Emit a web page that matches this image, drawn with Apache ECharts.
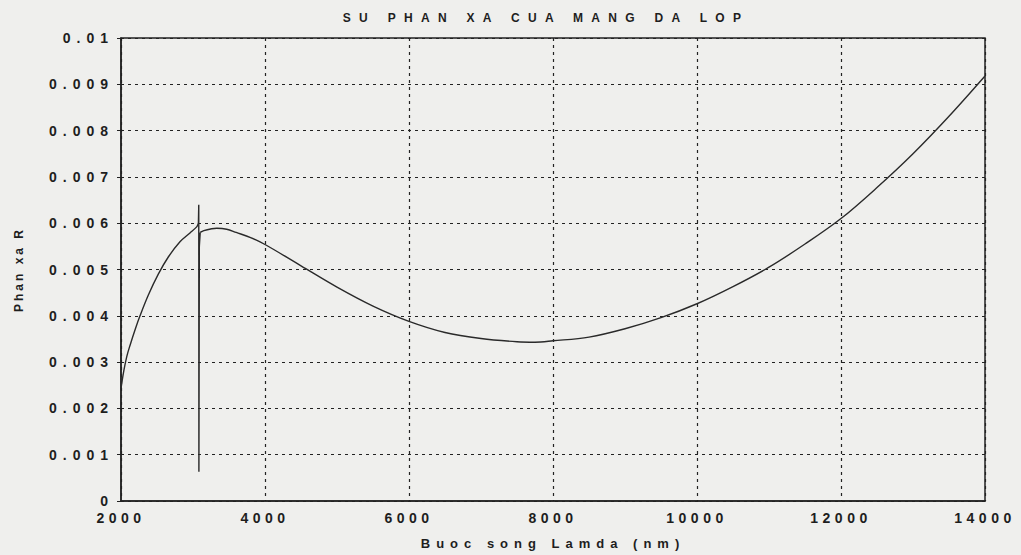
<!DOCTYPE html>
<html>
<head>
<meta charset="utf-8">
<script src="https://cdn.jsdelivr.net/npm/echarts@6/dist/echarts.min.js"></script>
<style>
  html, body { margin: 0; padding: 0; background: #efefed; }
  #main { width: 1021px; height: 555px; }
</style>
</head>
<body>
<div id="main"></div>
<script>
// buoc song (nm)
var lamda = [2000, 2040, 2080, 2125, 2200, 2264, 2380, 2518, 2657, 2819, 2958, 3051, 3075,
  // gai nhon o ~3080 nm
  3080, 3082, 3088, 3100,
  3150, 3260, 3330, 3468, 3600, 3800, 4000, 4500, 5000, 5500, 6000, 6500, 7000, 7500, 7750,
  8000, 8500, 9000, 9500, 10000, 10500, 11000, 11500, 12000, 12500, 13000, 13500, 14000];
// he so phan xa R
var phanXa = [0.00243, 0.00282, 0.00312, 0.00336, 0.00372, 0.004, 0.00445, 0.0049, 0.00527, 0.0056, 0.00579, 0.00592, 0.006,
  0.0064, 0.00063, 0.0055, 0.0058,
  0.00584, 0.00588, 0.00589, 0.00587, 0.0058, 0.00569, 0.00554, 0.00508, 0.00462, 0.00421, 0.00388, 0.00364, 0.00351, 0.00344, 0.00343,
  0.00346, 0.00354, 0.00372, 0.00396, 0.00426, 0.00463, 0.00505, 0.00555, 0.0061, 0.00677, 0.0075, 0.00831, 0.00918];
var xTicks = ['2000', '4000', '6000', '8000', '10000', '12000', '14000'];
var yTicks = ['0', '0.001', '0.002', '0.003', '0.004', '0.005', '0.006', '0.007', '0.008', '0.009', '0.01'];

var tenBieuDo = 'SU PHAN XA CUA MANG DA LOP';
var tenTrucX = 'Buoc song Lamda (nm)';
var tenTrucY = 'Phan xa R';

var data = [];
for (var i = 0; i < lamda.length; i++) {
  data.push([lamda[i], phanXa[i]]);
}
// tach 3 doan: truoc gai (muot), gai (gay), sau gai (muot)
var iGai = lamda.indexOf(3075), iSau = lamda.indexOf(3100);
var doan1 = data.slice(0, iGai + 1);
var doanGai = data.slice(iGai, iSau + 1);
var doan2 = data.slice(iSau);

var myChart = echarts.init(document.getElementById('main'), null, { renderer: 'svg' });

var font = '"Liberation Sans", Arial, sans-serif';
var mauChu = '#1e1e1e';
var mauDuong = '#2a2a2a';

var lineSeries = function (d, smooth) {
  return {
    type: 'line',
    data: d,
    showSymbol: false,
    smooth: smooth,
    lineStyle: { color: mauDuong, width: 1.4 }
  };
};

var option = {
  backgroundColor: '#efefed',
  animation: false,
  title: {
    text: tenBieuDo,
    left: 541,
    top: 7,
    textAlign: 'center',
    textStyle: { color: mauChu, fontSize: 12, fontWeight: 'bold', fontFamily: font }
  },
  grid: {
    left: 121,
    right: 36,
    top: 38,
    bottom: 53,
    show: true,
    borderColor: '#222',
    borderWidth: 1.5,
    backgroundColor: 'transparent'
  },
  xAxis: {
    type: 'value',
    min: 2000,
    max: 14000,
    interval: 2000,
    name: tenTrucX,
    nameLocation: 'middle',
    nameGap: 36,
    nameTextStyle: { color: mauChu, fontSize: 13, fontWeight: 'bold', fontFamily: font },
    axisLine: { show: true, lineStyle: { color: '#222', width: 1.5 } },
    axisTick: { show: false },
    axisLabel: {
      color: mauChu, fontSize: 14, fontWeight: 'bold', fontFamily: font, margin: 10,
      formatter: function (v) {
        var idx = xTicks.indexOf(String(v));
        return idx >= 0 ? xTicks[idx] : '';
      }
    },
    splitLine: { show: true, lineStyle: { color: '#222', type: [3, 4], width: 1.2 } }
  },
  yAxis: {
    type: 'value',
    min: 0,
    max: 0.01,
    interval: 0.001,
    name: tenTrucY,
    nameLocation: 'middle',
    nameGap: 96,
    nameTextStyle: { color: mauChu, fontSize: 12, fontWeight: 'bold', fontFamily: font },
    axisLine: { show: true, lineStyle: { color: '#222', width: 1.5 } },
    axisTick: { show: true, length: 4, lineStyle: { color: '#222' } },
    axisLabel: {
      color: mauChu, fontSize: 14, fontWeight: 'bold', fontFamily: font, margin: 7,
      formatter: function (v) {
        return yTicks[Math.round(v * 1000)];
      }
    },
    splitLine: { show: true, lineStyle: { color: '#222', type: [3, 4], width: 1.2 } }
  },
  series: [
    lineSeries(doan1, 0.35),
    lineSeries(doanGai, false),
    lineSeries(doan2, 0.35)
  ]
};

myChart.setOption(option);

// chu trong anh goc duoc gian cach rong
var texts = document.querySelectorAll('#main svg text');
for (var k = 0; k < texts.length; k++) {
  var t = texts[k].textContent;
  var s = '4px';
  if (t === tenBieuDo) s = '8.3px';
  else if (t === tenTrucX) s = '6px';
  else if (t === tenTrucY) s = '3px';
  else if (yTicks.indexOf(t) >= 0 && xTicks.indexOf(t) < 0) s = '6px';
  else if (xTicks.indexOf(t) >= 0) s = '4.5px';
  texts[k].style.letterSpacing = s;
}
</script>
</body>
</html>
